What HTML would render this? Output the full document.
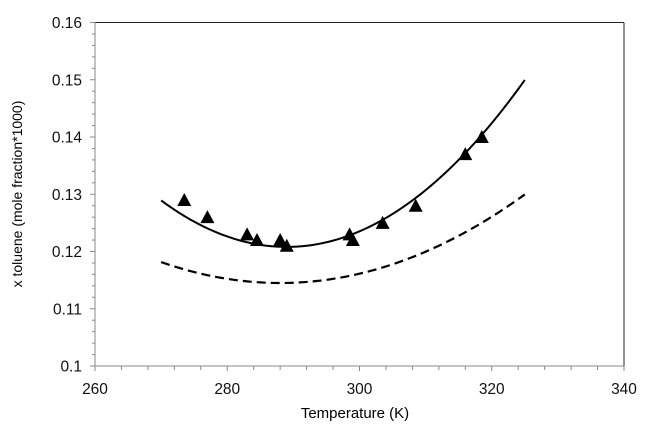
<!DOCTYPE html><html><head><style>body{margin:0;background:#fff}svg{display:block;font-family:"Liberation Sans",Arial,sans-serif}</style></head><body>
<svg id="s" width="669" height="435" xmlns="http://www.w3.org/2000/svg">
<rect width="669" height="435" fill="#fff"/>
<g id="g"></g>
<text x="355" y="418" font-size="15" text-anchor="middle">Temperature (K)</text>
<text transform="translate(22,194) rotate(-90)" font-size="14" text-anchor="middle">x toluene (mole fraction*1000)</text>
</svg>
<script>
var X=t=>95+(t-260)*529/80,Y=v=>366-(v-0.1)*343.5/0.06,h='';
h+='<line x1="95" y1="22.5" x2="624" y2="22.5" stroke="#222"/><line x1="624" y1="22.5" x2="624" y2="366" stroke="#222"/>';
h+='<line x1="95" y1="22" x2="95" y2="366" stroke="#888"/><line x1="95" y1="366" x2="624" y2="366" stroke="#888"/>';
for(var i=0;i<=30;i++){var y=Y(0.1+i*0.002);h+='<line x1="'+(i%5?92:90)+'" y1="'+y+'" x2="95" y2="'+y+'" stroke="#888"/>';}
for(var i=0;i<=20;i++){var x=X(260+i*4);h+='<line x1="'+x+'" y1="366" x2="'+x+'" y2="'+(i%5?370:371)+'" stroke="#888"/>';}
for(var i=0;i<=6;i++){var v=0.1+i*0.01;h+='<text x="82" y="'+(Y(v)+5.5)+'" font-size="15.5" text-anchor="end" fill="#111">'+(i==0?'0.1':v.toFixed(2))+'</text>';}
for(var i=0;i<=4;i++){h+='<text x="'+X(260+i*20)+'" y="394" font-size="15.5" text-anchor="middle" fill="#111">'+(260+i*20)+'</text>';}
var p1='',p2='';for(var t=270;t<=325;t+=0.5){p1+=X(t)+','+Y(2.25e-5*(t-289)*(t-289)+0.1208)+' ';p2+=X(t)+','+Y(1.13e-5*(t-288)*(t-288)+0.1145)+' ';}
h+='<polyline points="'+p1+'" fill="none" stroke="#000" stroke-width="2"/>';
h+='<polyline points="'+p2+'" fill="none" stroke="#000" stroke-width="2.2" stroke-dasharray="9,5"/>';
[[273.5,.129],[277,.126],[283,.123],[284.5,.122],[288,.122],[289,.121],[298.5,.123],[299,.122],[303.5,.125],[308.5,.128],[316,.137],[318.5,.140]].forEach(function(d){var x=X(d[0]),y=Y(d[1]);h+='<polygon points="'+(x-7)+','+(y+6)+' '+(x+7)+','+(y+6)+' '+x+','+(y-7)+'" fill="#000"/>';});
document.getElementById('g').innerHTML=h;
</script></body></html>
